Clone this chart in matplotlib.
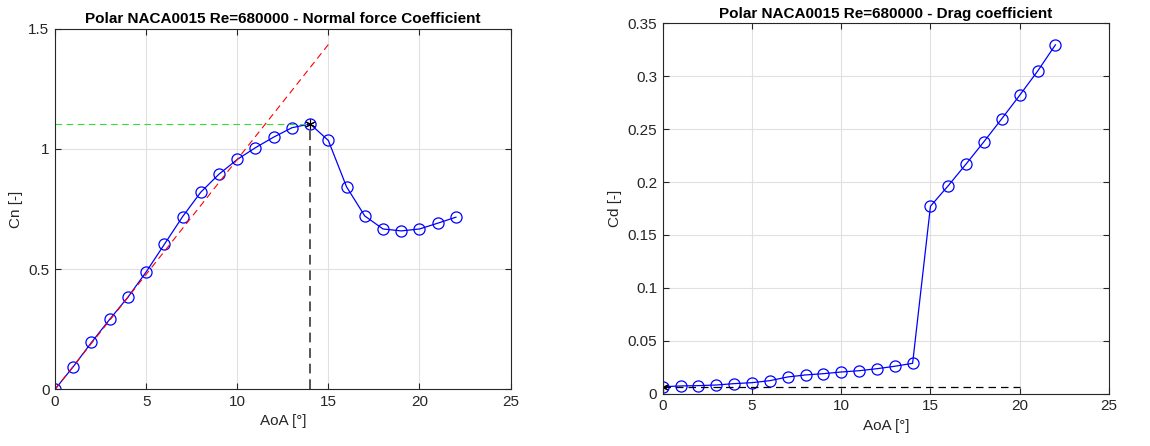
import matplotlib
matplotlib.use("Agg")
import matplotlib.pyplot as plt
import numpy as np

plt.rcParams['font.family'] = ['Liberation Sans', 'DejaVu Sans']

aoa = list(range(0, 23))
cn = [0.0, 0.094, 0.195, 0.291, 0.383, 0.488, 0.603, 0.718, 0.820, 0.895, 0.956,
      1.005, 1.049, 1.088, 1.104, 1.035, 0.842, 0.721, 0.667, 0.659, 0.667, 0.691, 0.716]
cd = [0.0066, 0.0073, 0.0076, 0.0082, 0.0095, 0.0104, 0.0123, 0.0158, 0.0177, 0.0189,
      0.0205, 0.0217, 0.0236, 0.0259, 0.0287, 0.1771, 0.1966, 0.2171, 0.2382, 0.2599,
      0.2820, 0.3047, 0.3296]
cn_slope = 0.0956          # lift slope per degree (linear fit)
slope_x = [0, 15]
stall_aoa = 14
cn_max = 1.104
cd0 = 0.0066
cd0_x = [0, 20]

title_l = "Polar NACA0015 Re=680000 - Normal force Coefficient"
title_r = "Polar NACA0015 Re=680000 - Drag coefficient"

fig = plt.figure(figsize=(11.5, 4.46), dpi=100)
axl = fig.add_axes([0.0478, 0.127, 0.444 - 0.0478, 0.9357 - 0.127])
axr = fig.add_axes([0.5763, 0.1173, 0.9643 - 0.5763, 0.9478 - 0.1173])

tc = '#262626'
grid_c = '#e0e0e0'
asterisk = (6, 2, 0)

def style(ax):
    ax.grid(True, color=grid_c, linewidth=0.8)
    ax.set_axisbelow(True)
    ax.tick_params(direction='in', top=True, right=True, colors=tc, labelsize=11,
                   length=4, width=0.8, pad=4)
    for s in ax.spines.values():
        s.set_color(tc)
        s.set_linewidth(0.8)

# Left plot
style(axl)
axl.plot(aoa, cn, '-o', color='#0000ff', mfc='none', markersize=8, linewidth=0.9, mew=0.9)
axl.plot(slope_x, [cn_slope * x for x in slope_x], '--', color='#ff0000', linewidth=0.8,
         dashes=(6, 4))
axl.plot([0, stall_aoa], [cn_max, cn_max], '--', color='#33dd33', linewidth=0.8, dashes=(6, 4))
axl.plot([stall_aoa, stall_aoa], [0, cn_max], '--', color='#555555', linewidth=1.4, dashes=(5, 3))
axl.plot([stall_aoa], [cn_max], marker=asterisk, color='k', markersize=7, mew=0.8, linestyle='none')
axl.set_xlim(0, 25)
axl.set_ylim(0, 1.5)
axl.set_xticks([0, 5, 10, 15, 20, 25])
axl.set_yticks([0, 0.5, 1, 1.5])
axl.set_yticklabels(['0', '0.5', '1', '1.5'])
axl.set_xlabel('AoA [°]', color=tc, fontsize=11)
axl.set_ylabel('Cn [-]', color=tc, fontsize=11)
axl.set_title(title_l, fontsize=11, fontweight='bold', pad=4)

# Right plot
style(axr)
axr.plot(aoa, cd, '-o', color='#0000ff', mfc='none', markersize=8, linewidth=0.9, mew=0.9)
axr.plot(cd0_x, [cd0, cd0], '--', color='k', linewidth=0.9, dashes=(6, 4))
axr.plot([0], [cd0], marker=asterisk, color='k', markersize=7, mew=0.8, linestyle='none')
axr.set_xlim(0, 25)
axr.set_ylim(0, 0.35)
axr.set_xticks([0, 5, 10, 15, 20, 25])
axr.set_yticks([0, 0.05, 0.1, 0.15, 0.2, 0.25, 0.3, 0.35])
axr.set_yticklabels(['0', '0.05', '0.1', '0.15', '0.2', '0.25', '0.3', '0.35'])
axr.set_xlabel('AoA [°]', color=tc, fontsize=11)
axr.set_ylabel('Cd [-]', color=tc, fontsize=11)
axr.set_title(title_r, fontsize=11, fontweight='bold', pad=4)

fig.savefig('out.png', dpi=100)
